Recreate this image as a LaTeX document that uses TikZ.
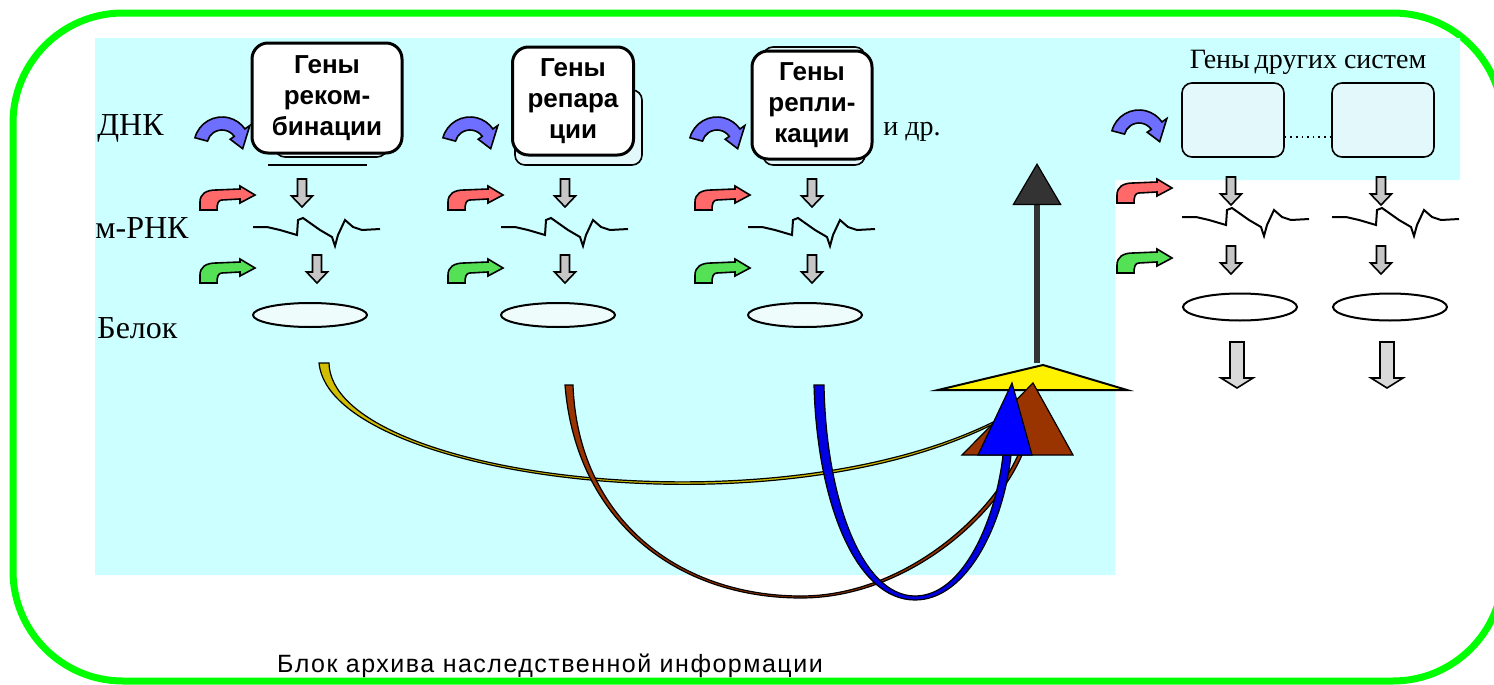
\documentclass[tikz,border=0pt]{standalone}
\usepackage{fontspec}
\setmainfont{Liberation Serif}
\setsansfont{Liberation Sans}
\usetikzlibrary{arrows.meta,calc,shapes.geometric}
\definecolor{framegreen}{RGB}{0,255,0}
\definecolor{bgcyan}{RGB}{204,255,255}
\definecolor{dnablue}{RGB}{110,110,255}
\definecolor{rnared}{RGB}{255,105,105}
\definecolor{protgreen}{RGB}{85,225,85}
\definecolor{boxfill}{RGB}{226,248,250}
\definecolor{protfill}{RGB}{238,252,252}
\definecolor{linkyellow}{RGB}{210,190,0}
\definecolor{linkbrown}{RGB}{153,51,0}
\definecolor{linkblue}{RGB}{0,0,225}
\definecolor{hubgray}{RGB}{51,51,51}
\newcommand{\dnaarrow}[2]{%
  \begin{scope}[shift={(#1,#2)}]
    \filldraw[fill=dnablue,line width=.8pt] (195:28) arc[start angle=195,end angle=325,radius=28]
      -- (325:34) -- (10:21) -- (325:10) -- (325:15)
      arc[start angle=325,end angle=195,radius=15] -- cycle;
  \end{scope}
}
\newcommand{\rnaarrow}[3]{%
  \begin{scope}[shift={(#1,#2)}]
    \filldraw[fill=#3,line width=.8pt] (0,0) -- (0,-8) .. controls (0,-16) and (6,-20) .. (16,-20)
      -- (40,-21) -- (40,-24) -- (55,-15) -- (40,-7) -- (40,-11) -- (22,-10)
      .. controls (18,-10) and (17,-6) .. (17,0) -- cycle;
  \end{scope}
}
\newcommand{\smalldown}[2]{%
  \filldraw[fill=gray!45,line width=.8pt,shift={(#1,#2)}] (-4.5,0) -- (4.5,0) -- (4.5,17)
    -- (10.5,17) -- (0,28) -- (-10.5,17) -- (-4.5,17) -- cycle;
}
\newcommand{\bigdown}[2]{%
  \filldraw[fill=gray!30,line width=.8pt,shift={(#1,#2)}] (-7,0) -- (7,0) -- (7,36)
    -- (16,36) -- (0,46) -- (-16,36) -- (-7,36) -- cycle;
}
\newcommand{\mrnawave}[2]{%
  \draw[line width=1pt,shift={(#1,#2)}] (-64,0) -- (-50,0) -- (-37,3) -- (-20,8) -- (-19,-7)
    -- (-14,-9) -- (3,3) -- (15,10) -- (18,19) -- (21,8) -- (28,-7) -- (36,0) -- (45,3) -- (63,2);
}

\begin{document}
\begin{tikzpicture}[x=.5pt,y=-.5pt,
    rowlab/.style={anchor=west,inner sep=0pt,font=\fontsize{16}{18}\selectfont},
    genelabel/.style={draw,line width=1.5pt,rounded corners=8pt,fill=white,align=center,
      inner sep=0pt,font=\sffamily\bfseries\fontsize{13}{15.5}\selectfont},
    genebg/.style={draw,thick,rounded corners=5pt,fill=boxfill,inner sep=0pt},
    protein/.style={ellipse,draw,line width=1pt,fill=protfill,minimum width=57pt,
      minimum height=12pt,inner sep=0pt},
    link/.style={line width=.6pt,draw=black}]
  \useasboundingbox (0,0) rectangle (1494,685);
  % frame and background
  \draw[framegreen,line width=3.5pt,rounded corners=55pt] (13,13) rectangle (1503,681);
  \fill[bgcyan] (95,38) -- (1460,38) -- (1460,180) -- (1115,180) -- (1115,575) -- (95,575) -- cycle;

  \node[rowlab] (dnk) at (97,128) {ДНК};
  \node[rowlab] (mrnk) at (95,228) {м-РНК};
  \node[rowlab] (belok) at (97,328) {Белок};

  % three gene columns
  \foreach \n/\dx/\ax/\bx in {1/0/302/317,2/248/565/565,3/495/812/812}{
    \dnaarrow{222+\dx}{145}
    \rnaarrow{200+\dx}{210}{rnared}
    \rnaarrow{200+\dx}{283}{protgreen}
    \smalldown{\ax}{179}
    \smalldown{\bx}{255}
    \mrnawave{317+\dx}{227}
    \node[protein] (prot-\n) at (310+\dx,315) {};
  }
  \draw[thick] (268,165) -- (367,165);
  \node[genebg,minimum width=56pt,minimum height=50pt] (recbg) at (331,107) {};
  \node[genebg,minimum width=63.5pt,minimum height=37.5pt] (repbg) at (578.5,127.5) {};
  \node[genebg,minimum width=51pt,minimum height=59pt] (replbg) at (814,106) {};
  \node[genelabel,minimum width=75pt,minimum height=55pt] (rec) at (327,98) {Гены\\реком-\\бинации};
  \node[genelabel,minimum width=60.5pt,minimum height=54pt] (rep) at (573,101) {Гены\\репара\\ции};
  \node[genelabel,minimum width=60pt,minimum height=54pt] (repl) at (812,105) {Гены\\репли-\\кации};
  \node[font=\fontsize{14}{16}\selectfont] (idr) at (912,132) {и др.};

  % genes of other systems
  \node[font=\fontsize{14}{16}\selectfont] (other) at (1308,62) {Гены\,других систем};
  \dnaarrow{1139}{138}
  \rnaarrow{1117}{203}{rnared}
  \rnaarrow{1117}{273}{protgreen}
  \foreach \m/\cx in {1/1240,2/1390}{
    \node[genebg,minimum width=51pt,minimum height=37pt] (othbox-\m) at (\cx-7,120) {};
    \smalldown{\cx-9}{177}
    \smalldown{\cx-9}{246}
    \mrnawave{\cx+6}{217}
    \node[protein,fill=white,minimum height=13.5pt] (othprot-\m) at (\cx,307) {};
    \bigdown{\cx-3}{342}
  }
  \draw[dotted,thick] ([yshift=-8.5pt]othbox-1.east) -- ([yshift=-8.5pt]othbox-2.west);

  % hub
  \coordinate (hub) at (1043,365);
  \coordinate (hubtop) at (1037,363);
  \coordinate (goal) at (1037,163);
  \filldraw[fill=yellow,line width=1pt] (938,390) -- (hub) -- (1127,390) -- cycle;
  \draw[draw=hubgray,line width=3pt,
    -{Triangle[length=21pt,width=24.5pt,line width=.6pt,color=black,fill=hubgray]}] (hubtop) -- (goal);

  % links from the proteins
  \coordinate (rec-out) at (324,363);
  \coordinate (rep-out) at (569,385);
  \coordinate (repl-out) at (819,385);
  \coordinate (rep-low) at (801,597);
  \coordinate (repl-low) at (915,598);
  \coordinate (yel-in) at (1003,418);
  \coordinate (bro-in) at (1020,455);
  \coordinate (blu-in) at (1007,455);
  \filldraw[link,fill=linkyellow] ($(rec-out)+(-5,0)$) .. controls +(11,115) and +(-223,120) .. ($(yel-in)+(0,1)$)
    -- ($(yel-in)+(0,-1)$) .. controls +(-223,118) and +(2,114) .. ($(rec-out)+(5,0)$) -- cycle;
  \filldraw[link,fill=linkbrown] ($(rep-out)+(-4,0)$) .. controls +(11,137) and +(-123,0) .. ($(rep-low)+(0,1)$)
    .. controls +(101,0) and +(-29,67) .. ($(bro-in)+(2,0)$) -- ($(bro-in)+(-2,0)$)
    .. controls +(-29,65) and +(99,0) .. ($(rep-low)+(0,-1)$)
    .. controls +(-121,0) and +(5,135) .. ($(rep-out)+(4,0)$) -- cycle;
  \filldraw[link,fill=linkblue] ($(repl-out)+(-5,0)$) .. controls +(3,118) and +(-59,0) .. ($(repl-low)+(0,2)$)
    .. controls +(53,0) and +(-7,67) .. ($(blu-in)+(4,0)$) -- ($(blu-in)+(-4,0)$)
    .. controls +(-7,63) and +(49,0) .. ($(repl-low)+(0,-2)$)
    .. controls +(-53,0) and +(2,114) .. ($(repl-out)+(5,0)$) -- cycle;
  \filldraw[fill=linkbrown,line width=.6pt] (962,455) -- (1033,383) -- (1073,455) -- cycle;
  \filldraw[fill=blue,line width=.6pt] (978,455) -- (1012,383) -- (1032,455) -- cycle;

  \node[font=\sffamily\fontsize{12.5}{14}\selectfont\addfontfeatures{LetterSpace=6}] (caption)
    at (550,666) {Блок архива наследственной информации};
\end{tikzpicture}
\end{document}
